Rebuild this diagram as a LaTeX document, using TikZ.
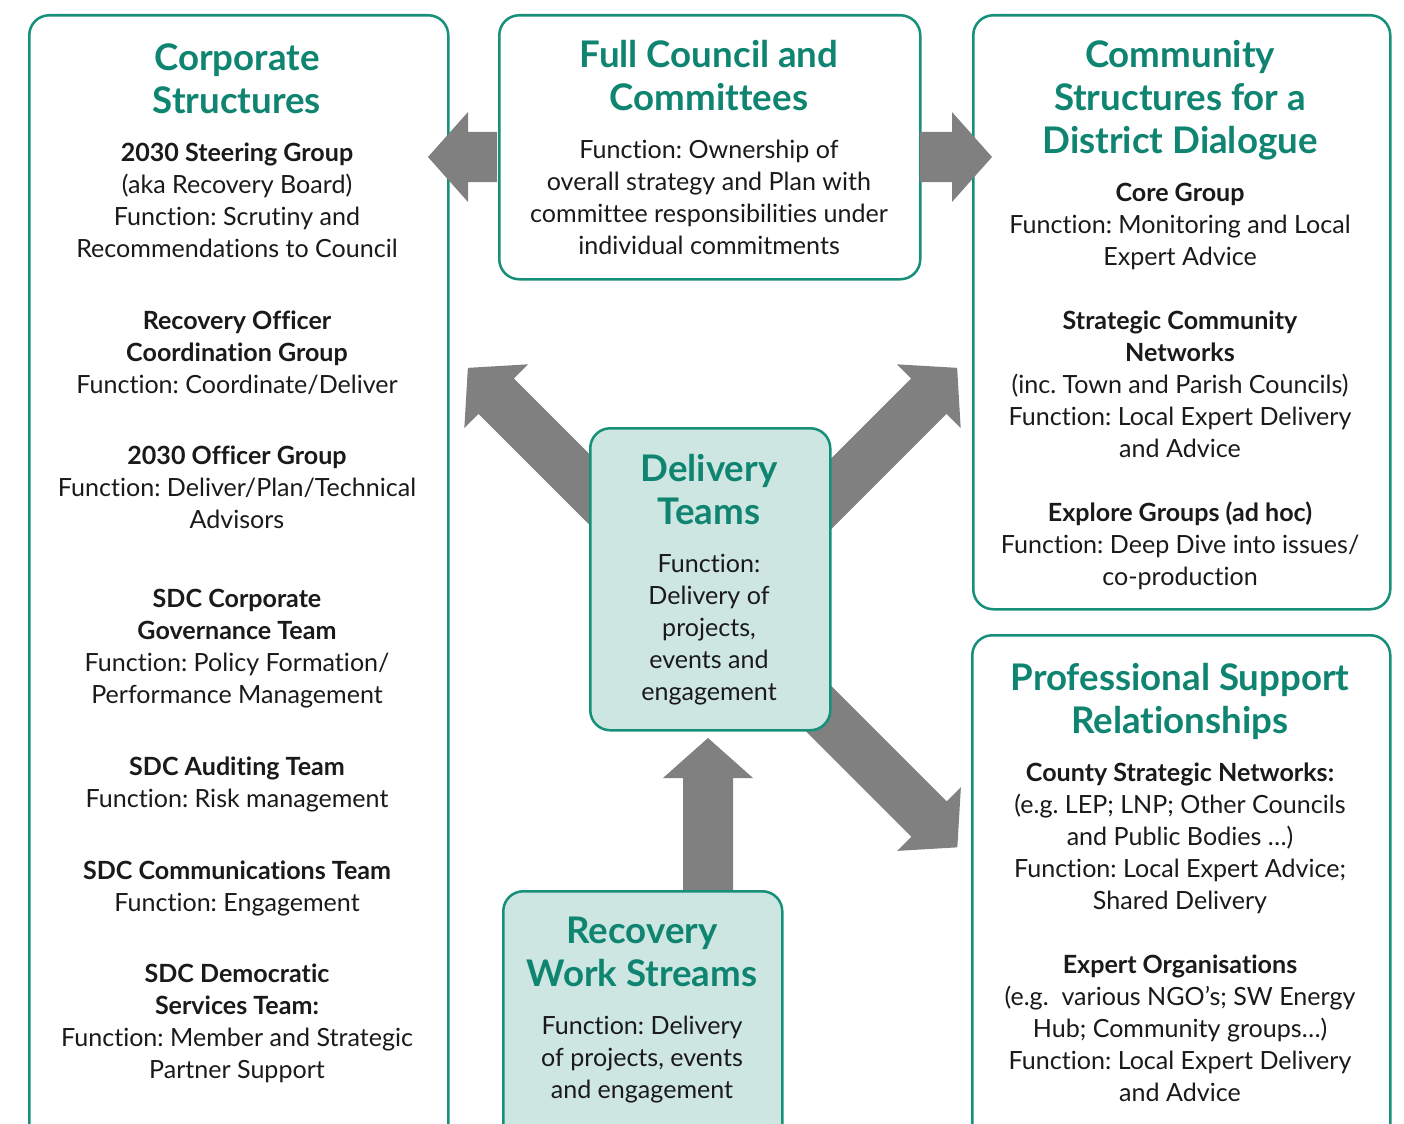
\documentclass[tikz,border=0pt]{standalone}
\usepackage{fontspec}
\setmainfont{Lato}[Ligatures=NoCommon]
\frenchspacing
\definecolor{tealtitle}{HTML}{0F8571}
\definecolor{tealline}{HTML}{17907A}
\definecolor{tealfill}{HTML}{CEE6E2}
\definecolor{arrowgray}{HTML}{808080}
\definecolor{bodytext}{HTML}{1A1A1A}
\newcommand\blockarrow[3]{%
  \fill[arrowgray, shift={#1}, rotate=#2]
    (0,-25) -- (#3-40,-25) -- (#3-40,-45) -- (#3,0) -- (#3-40,45) -- (#3-40,25) -- (0,25) -- cycle;}
\begin{document}
\begin{tikzpicture}[x=0.75pt,y=-0.75pt,
  box/.style={draw=tealline, line width=1.9pt, rounded corners=15pt, fill=white, inner sep=0pt, anchor=north west},
  hlbox/.style={box, fill=tealfill},
  ttl/.style={font=\fontsize{27.5}{32.25}\selectfont\bfseries\frenchspacing, text=tealtitle, align=center, anchor=north, inner sep=0pt},
  bdy/.style={font=\fontsize{18.8}{24}\selectfont\frenchspacing, text=bodytext, align=center, anchor=north, inner sep=0pt}]
\newcommand\ts{\rule{0pt}{24pt}}
\newcommand\bs{\rule{0pt}{18pt}}
\useasboundingbox (0,0) rectangle (1404,1124);
\clip (0,0) rectangle (1404,1124);
% big boxes
\node[box, minimum width=314.25pt, minimum height=852pt] (corp) at (28,14) {};
\node[box, minimum width=315.75pt, minimum height=198pt] (council) at (498,14) {};
\node[box, minimum width=312.75pt, minimum height=445.5pt] (comm) at (972,14) {};
\node[box, minimum width=313.5pt, minimum height=387pt] (prof) at (971,634) {};
% arrows
\blockarrow{(497,157)}{180}{69}
\blockarrow{(920,157)}{0}{72}
\blockarrow{(680,580)}{135}{300}
\blockarrow{(745,580)}{45}{300}
\blockarrow{(724,614)}{-45}{330}
\blockarrow{(708,900)}{90}{162}
% highlighted boxes
\node[hlbox, minimum width=180pt, minimum height=226.5pt] (deliv) at (589,427) {};
\node[hlbox, minimum width=209.25pt, minimum height=195pt] (recov) at (502,890) {};
% Corporate structures
\node[ttl] (corpT) at (237,38) {\ts Corporate\\Structures};
\node[bdy] (c1) at (237,137) {\bs\textbf{2030 Steering Group}\\(aka Recovery Board)\\Function: Scrutiny and\\Recommendations to Council};
\node[bdy] (c2) at (237,305) {\bs\textbf{Recovery Officer}\\\textbf{Coordination Group}\\Function: Coordinate/Deliver};
\node[bdy] (c3) at (237,440) {\bs\textbf{2030 Officer Group}\\Function: Deliver/Plan/Technical\\Advisors};
\node[bdy] (c4) at (237,583) {\bs\textbf{SDC Corporate}\\\textbf{Governance Team}\\Function: Policy Formation/\\Performance Management};
\node[bdy] (c5) at (237,751) {\bs\textbf{SDC Auditing Team}\\Function: Risk management};
\node[bdy] (c6) at (237,855) {\bs\textbf{SDC Communications Team}\\Function: Engagement};
\node[bdy] (c7) at (237,958) {\bs\textbf{SDC Democratic}\\\textbf{Services Team:}\\Function: Member and Strategic\\Partner Support};
% Full council
\node[ttl] (councilT) at (709,35) {\ts Full Council and\\Committees};
\node[bdy] (f1) at (709,134) {\bs Function: Ownership of\\overall strategy and Plan with\\committee responsibilities under\\individual commitments};
% Community structures
\node[ttl] (commT) at (1180,35) {\ts Community\\Structures for a\\District Dialogue};
\node[bdy] (m1) at (1180,177) {\bs\textbf{Core Group}\\Function: Monitoring and Local\\Expert Advice};
\node[bdy] (m2) at (1180,305) {\bs\textbf{Strategic Community}\\\textbf{Networks}\\(inc. Town and Parish Councils)\\Function: Local Expert Delivery\\and Advice};
\node[bdy] (m3) at (1180,497) {\bs\textbf{Explore Groups (ad hoc)}\\Function: Deep Dive into issues/\\co-production};
% Professional support
\node[ttl] (profT) at (1180,658) {\ts Professional Support\\Relationships};
\node[bdy] (p1) at (1180,757) {\bs\textbf{County Strategic Networks:}\\(e.g. LEP; LNP; Other Councils\\and Public Bodies \ldots)\\Function: Local Expert Advice;\\Shared Delivery};
\node[bdy] (p2) at (1180,949) {\bs\textbf{Expert Organisations}\\(e.g.\ \ various NGO’s; SW Energy\\Hub; Community groups\ldots)\\Function: Local Expert Delivery\\and Advice};
% Delivery teams
\node[ttl] (delivT) at (709,449) {\ts Delivery\\Teams};
\node[bdy] (d1) at (709,548) {\bs Function:\\Delivery of\\projects,\\events and\\engagement};
% Recovery work streams
\node[ttl] (recovT) at (642,911) {\ts Recovery\\Work Streams};
\node[bdy] (r1) at (642,1010) {\bs Function: Delivery\\of projects, events\\and engagement};
\end{tikzpicture}
\end{document}
